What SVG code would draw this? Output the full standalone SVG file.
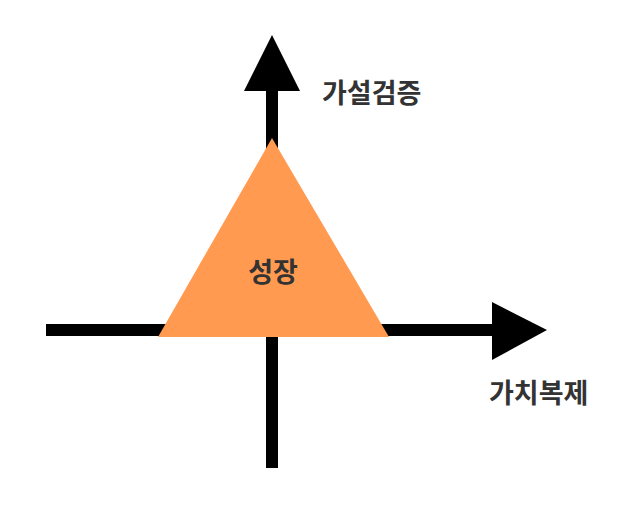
<svg xmlns="http://www.w3.org/2000/svg" width="623" height="507" viewBox="0 0 623 507">
<style>
.t{font-family:"Noto Sans CJK KR","Noto Sans",sans-serif;font-weight:bold;fill:#333;font-size:27px}
</style>
<g id="axes">
<rect x="266" y="85" width="12" height="383" fill="#000"/>
<polygon points="244,91 300,91 272,35" fill="#000"/>
<rect x="46" y="324" width="450" height="12" fill="#000"/>
<polygon points="492,302 492,360 547,330" fill="#000"/>
</g>
<g id="growth">
<polygon points="272,138 158,337 389,337" fill="#FF9A50"/>
<text class="t" x="273" y="282" text-anchor="middle" font-size="26">성장</text>
</g>
<g id="y-label"><text class="t" x="322" y="103">가설검증</text></g>
<g id="x-label"><text class="t" x="489" y="403">가치복제</text></g>
</svg>
